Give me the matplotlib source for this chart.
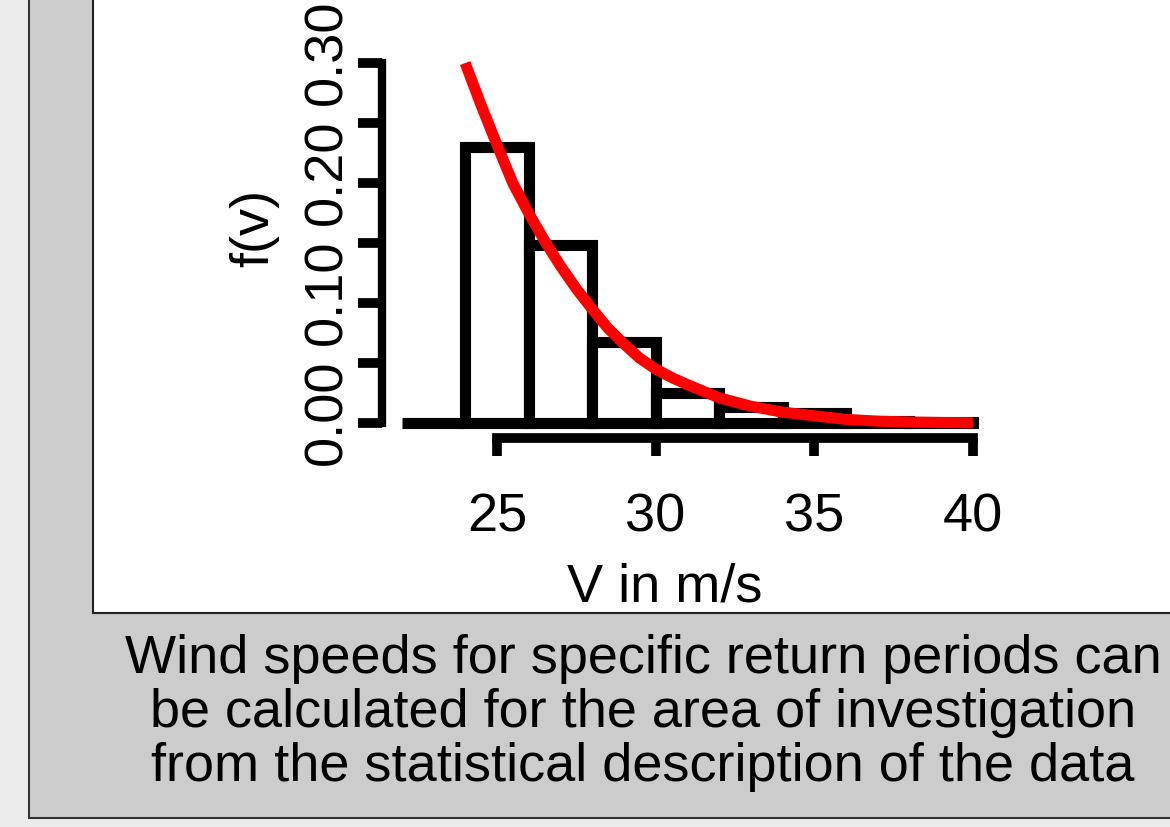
import matplotlib
matplotlib.use('Agg')
import matplotlib.pyplot as plt
import matplotlib.transforms as mtransforms
from matplotlib.patches import Rectangle
from matplotlib.ticker import FixedLocator, NullFormatter

plt.rcParams['font.family'] = ['Liberation Sans', 'DejaVu Sans']

# histogram of annual maximum wind speeds (bin edges in m/s, relative frequency)
bin_edges = [22, 24, 26, 28, 30, 32, 34, 36, 38, 40]
frequencies = [0.0, 0.230, 0.148, 0.0675, 0.025, 0.0133, 0.0085, 0.002, 0.001]

# fitted density curve
curve_v = [24, 24.5, 25, 25.5, 26, 26.5, 27, 27.5, 28, 28.5, 29, 29.5, 30,
           30.5, 31, 32, 33, 34, 35, 36, 37, 38, 39, 40]
curve_f = [0.300, 0.265, 0.232, 0.200, 0.175, 0.152, 0.131, 0.112, 0.095,
           0.079, 0.066, 0.054, 0.045, 0.038, 0.032, 0.021, 0.014, 0.009,
           0.006, 0.003, 0.0015, 0.0008, 0.0004, 0.0002]

x_ticks = [25, 30, 35, 40]
y_major = [0.0, 0.10, 0.20, 0.30]
y_minor = [0.05, 0.15, 0.25]
y_labels = ['0.00', '0.10', '0.20', '0.30']

caption = ('Wind speeds for specific return periods can\n'
           'be calculated for the area of investigation\n'
           'from the statistical description of the data')

fig = plt.figure(figsize=(11.7, 8.27), dpi=100)
fig.patch.set_facecolor('#ebebeb')

# grey slide panel and white chart panel behind the axes
fig.patches.append(Rectangle((29 / 1170, 9 / 827), 1.1, 1.1, transform=fig.transFigure,
                             facecolor='#cccccc', edgecolor='#333333', linewidth=1.5, zorder=-2))
fig.patches.append(Rectangle((93 / 1170, 214 / 827), 1.1, 1.1, transform=fig.transFigure,
                             facecolor='white', edgecolor='#222222', linewidth=1.5, zorder=-1))

ax = fig.add_axes([0.3265, 0.4704, 0.5322, 0.4824])
ax.set_zorder(2)
ax.patch.set_visible(False)

widths = [bin_edges[i + 1] - bin_edges[i] for i in range(len(frequencies))]
ax.bar(bin_edges[:-1], frequencies, width=widths, align='edge',
       facecolor='white', edgecolor='black', linewidth=8, zorder=2)
ax.plot(curve_v, curve_f, color='#ff0000', linewidth=8, zorder=3,
        solid_capstyle='butt', clip_on=False)

ax.set_xlim(21.38, 41)
ax.set_ylim(-0.0125, 0.32)

for side in ['top', 'right']:
    ax.spines[side].set_visible(False)
ax.spines['left'].set_bounds(0, 0.30)
ax.spines['bottom'].set_bounds(25, 40)
ax.spines['left'].set_linewidth(6)
ax.spines['bottom'].set_linewidth(7)

ax.xaxis.set_major_locator(FixedLocator(x_ticks))
ax.yaxis.set_major_locator(FixedLocator(y_major))
ax.yaxis.set_minor_locator(FixedLocator(y_minor))
ax.yaxis.set_minor_formatter(NullFormatter())
ax.set_yticklabels(y_labels, rotation=90, va='center')
ax.set_xticklabels([str(t) for t in x_ticks])

ax.tick_params(axis='x', which='major', length=13, width=7, pad=26, labelsize=39)
ax.tick_params(axis='y', which='both', length=17, width=7, pad=4, labelsize=39)

offset = mtransforms.ScaledTranslation(0, 8 / 72, fig.dpi_scale_trans)
for lab in ax.get_yticklabels():
    lab.set_transform(lab.get_transform() + offset)

ax.set_xlabel('V in m/s', fontsize=39)
ax.set_ylabel('f(v)', fontsize=39)
ax.xaxis.set_label_coords(0.4545, -0.311)
ax.yaxis.set_label_coords(-0.1654, 0.5264)

fig.text(643 / 1170, 0.2334, caption, ha='center', va='top', fontsize=39,
         linespacing=1.1, multialignment='center')

plt.savefig('out.png', dpi=100, facecolor=fig.get_facecolor())
